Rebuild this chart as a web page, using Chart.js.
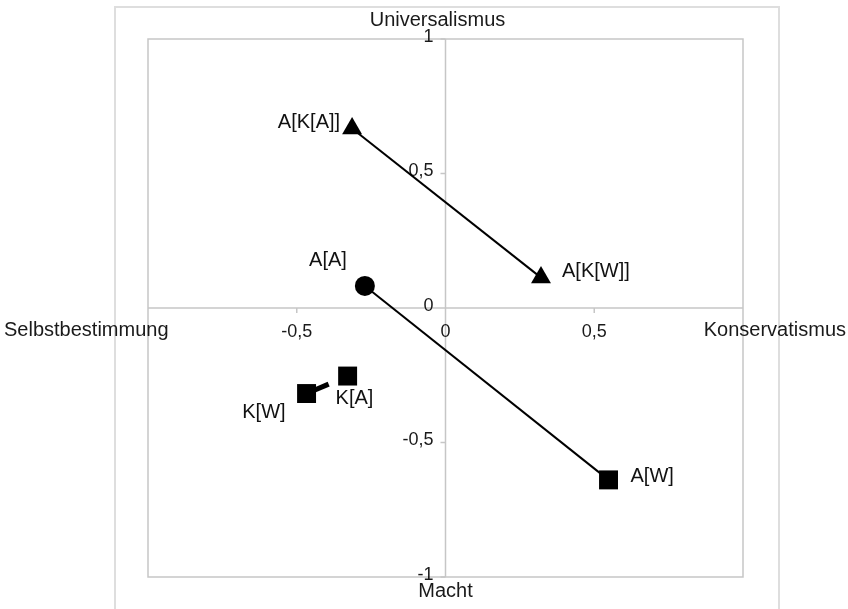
<!DOCTYPE html>
<html>
<head>
<meta charset="utf-8">
<script src="https://cdn.jsdelivr.net/npm/chart.js@4.4.1/dist/chart.umd.min.js"></script>
<style>
  html, body { margin: 0; padding: 0; background: #fff; }
  #wrap { width: 848px; height: 609px; position: relative; }
</style>
</head>
<body>
<div id="wrap"><canvas id="werteChart"></canvas></div>
<script>
// Werte
const namesAK = ['A[K[A]]', 'A[K[W]]'];
const xAK = [-0.314, 0.321];
const yAK = [0.667, 0.113];

const namesA = ['A[A]', 'A[W]'];
const xA = [-0.271, 0.548];
const yA = [0.082, -0.639];

const namesK = ['K[W]', 'K[A]'];
const xK = [-0.467, -0.329];
const yK = [-0.318, -0.253];

const xTicks = [-0.5, 0, 0.5];
const yTicks = [1, 0.5, 0, -0.5, -1];
const titleTop = 'Universalismus';
const titleBottom = 'Macht';
const titleLeft = 'Selbstbestimmung';
const titleRight = 'Konservatismus';

const FONT = '"Liberation Sans", Arial, sans-serif';
const fmt = v => String(v).replace('.', ',');
const pts = (xs, ys) => xs.map((v, i) => ({ x: v, y: ys[i] }));

// Achsenkreuz, Rahmen und Beschriftung
const achsenPlugin = {
    id: 'achsen',
    beforeDatasetsDraw(chart) {
        const { ctx, chartArea: a, scales: { x, y } } = chart;
        const x0 = x.getPixelForValue(0);
        const y0 = y.getPixelForValue(0);
        ctx.save();

        // aeusserer Rahmen
        ctx.strokeStyle = '#dedede';
        ctx.lineWidth = 2;
        ctx.strokeRect(115, 7, 664, 620);

        // Plotbereich
        ctx.strokeStyle = '#c6c6c6';
        ctx.lineWidth = 1.5;
        ctx.strokeRect(a.left, a.top, a.width, a.height);

        ctx.beginPath();
        ctx.moveTo(a.left, y0); ctx.lineTo(a.right, y0);
        ctx.moveTo(x0, a.top); ctx.lineTo(x0, a.bottom);
        // Teilstriche
        xTicks.forEach(v => {
            const px = x.getPixelForValue(v);
            ctx.moveTo(px, y0); ctx.lineTo(px, y0 + 5);
        });
        yTicks.forEach(v => {
            const py = y.getPixelForValue(v);
            ctx.moveTo(x0 - 5, py); ctx.lineTo(x0, py);
        });
        ctx.stroke();

        ctx.fillStyle = '#1a1a1a';
        ctx.font = '18px ' + FONT;
        ctx.textBaseline = 'middle';
        ctx.textAlign = 'center';
        xTicks.forEach(v => ctx.fillText(fmt(v), x.getPixelForValue(v), y0 + 24));
        ctx.textAlign = 'right';
        yTicks.forEach(v => ctx.fillText(fmt(v), x0 - 12, y.getPixelForValue(v) - 2));

        ctx.font = '20px ' + FONT;
        ctx.textAlign = 'center';
        ctx.fillText(titleTop, x0 - 8, 20);
        ctx.fillText(titleBottom, x0, 591);
        ctx.textAlign = 'left';
        ctx.fillText(titleLeft, 4, y0 + 22);
        ctx.textAlign = 'right';
        ctx.fillText(titleRight, 846, y0 + 22);
        ctx.restore();
    }
};

// Punktbeschriftungen
const labelPlugin = {
    id: 'punktLabels',
    afterDatasetsDraw(chart) {
        const { ctx } = chart;
        // [dx, dy, align] je Punkt
        const offsets = [
            [[-12, -6, 'right'], [21, -6, 'left']],
            [[-18, -25, 'right'], [22, -3, 'left']],
            [[-21, 19, 'right'], [-12, 22, 'left']]
        ];
        const names = [namesAK, namesA, namesK];
        ctx.save();
        ctx.fillStyle = '#111';
        ctx.font = '20px ' + FONT;
        ctx.textBaseline = 'middle';
        names.forEach((list, di) => {
            const meta = chart.getDatasetMeta(di);
            list.forEach((name, i) => {
                const el = meta.data[i];
                const [dx, dy, align] = offsets[di][i];
                ctx.textAlign = align;
                ctx.fillText(name, el.x + dx, el.y + dy);
            });
        });
        ctx.restore();
    }
};

const ctx = document.getElementById('werteChart').getContext('2d');
new Chart(ctx, {
    type: 'scatter',
    data: {
        datasets: [
            {
                data: pts(xAK, yAK),
                showLine: true,
                borderColor: '#000',
                borderWidth: 2,
                pointStyle: 'triangle',
                pointRadius: 11.5,
                pointBackgroundColor: '#000',
                pointBorderWidth: 0
            },
            {
                data: pts(xA, yA),
                showLine: true,
                borderColor: '#000',
                borderWidth: 2,
                pointStyle: ['circle', 'rect'],
                pointRadius: [10, 13.4],
                pointBackgroundColor: '#000',
                pointBorderWidth: 0
            },
            {
                data: pts(xK, yK),
                showLine: true,
                borderColor: '#000',
                borderWidth: 5,
                borderDash: [24, 40],
                pointStyle: 'rect',
                pointRadius: 13.4,
                pointBackgroundColor: '#000',
                pointBorderWidth: 0
            }
        ]
    },
    options: {
        responsive: true,
        maintainAspectRatio: false,
        animation: false,
        layout: { padding: { left: 148, top: 39, right: 105, bottom: 32 } },
        scales: {
            x: { type: 'linear', min: -1, max: 1, display: false },
            y: { type: 'linear', min: -1, max: 1, display: false }
        },
        plugins: {
            legend: { display: false },
            tooltip: { enabled: false }
        }
    },
    plugins: [achsenPlugin, labelPlugin]
});
</script>
</body>
</html>
